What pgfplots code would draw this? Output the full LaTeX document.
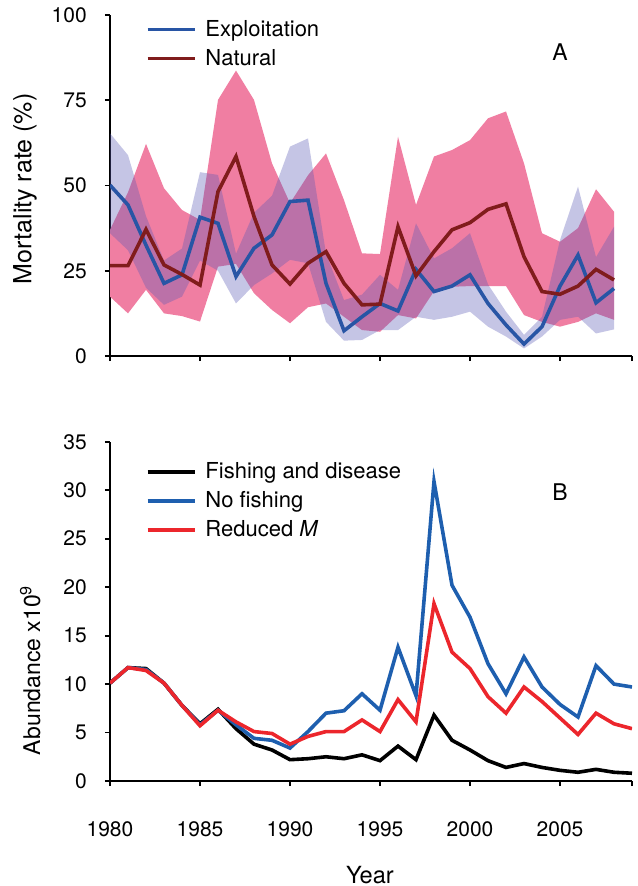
\documentclass[border=0pt]{standalone}
\usepackage{fontspec}
\setmainfont{TeX Gyre Heros}
\usepackage{pgfplots}
\usepackage{pgfplotstable}
\pgfplotsset{compat=1.18}
\usepgfplotslibrary{fillbetween}

\definecolor{explc}{RGB}{40,85,165}
\definecolor{natc}{RGB}{128,28,28}
\definecolor{pinkband}{RGB}{240,126,162}
\definecolor{lavband}{RGB}{90,90,180}
\definecolor{nfc}{RGB}{30,95,175}
\definecolor{rmc}{RGB}{236,38,44}

\pgfplotstableread{
year expl nat
1980 50.1 26.5
1981 44.3 26.5
1982 32.5 37.1
1983 21.3 26.7
1984 23.8 23.9
1985 40.7 20.8
1986 38.9 48.2
1987 23.3 58.5
1988 31.6 40.9
1989 35.5 26.7
1990 45.3 21.1
1991 45.7 27.2
1992 21.3 30.6
1993 7.4 21.3
1994 11.5 15.0
1995 15.4 15.2
1996 13.2 37.9
1997 25.4 23.5
1998 18.9 30.6
1999 20.5 37.0
2000 23.8 39.1
2001 15.4 43.0
2002 9.1 44.6
2003 3.5 29.1
2004 8.6 18.9
2005 20.5 18.1
2006 29.6 20.5
2007 15.6 25.4
2008 19.8 22.3
}\mort

\pgfplotstableread{
year eu el nu nl
1980 65.3 36.0 37.0 17.4
1981 58.9 31.0 48.0 12.5
1982 41.0 20.0 62.2 19.4
1983 28.0 15.0 49.2 12.5
1984 31.5 17.4 42.8 11.7
1985 53.9 28.0 39.9 10.1
1986 53.1 25.0 75.1 26.2
1987 30.0 15.4 83.7 27.0
1988 42.0 20.8 75.1 18.4
1989 47.0 24.2 56.5 13.5
1990 61.4 28.2 44.8 9.6
1991 63.8 27.2 53.0 14.3
1992 30.0 10.0 59.4 15.4
1993 16.4 4.5 45.7 11.5
1994 18.0 4.7 30.1 7.6
1995 23.8 7.6 29.9 7.1
1996 19.4 7.6 64.3 12.0
1997 38.9 11.5 44.3 11.0
1998 28.6 10.6 58.5 19.0
1999 31.6 11.5 60.4 20.3
2000 36.0 13.0 63.3 20.5
2001 21.0 8.6 69.7 20.5
2002 13.0 5.7 71.7 20.5
2003 6.2 2.2 56.5 12.0
2004 11.5 5.7 36.0 10.0
2005 34.0 10.6 33.5 8.6
2006 49.7 11.5 37.5 10.0
2007 29.0 6.6 48.9 12.5
2008 37.9 7.8 42.3 10.6
}\bands

\pgfplotstableread{
year fd nf rm
1980 10.1 10.1 10.1
1981 11.7 11.7 11.7
1982 11.6 11.5 11.4
1983 10.1 10.1 10.1
1984 7.8 7.8 7.8
1985 5.9 5.8 5.7
1986 7.4 7.3 7.3
1987 5.4 5.8 6.1
1988 3.8 4.4 5.1
1989 3.2 4.2 4.9
1990 2.2 3.4 3.8
1991 2.3 5.1 4.6
1992 2.5 7.0 5.1
1993 2.3 7.25 5.1
1994 2.7 9.0 6.3
1995 2.1 7.3 5.1
1996 3.6 13.8 8.4
1997 2.2 8.8 6.1
1998 6.8 30.9 18.3
1999 4.2 20.2 13.3
2000 3.2 16.9 11.6
2001 2.1 12.1 8.7
2002 1.4 9.0 7.0
2003 1.8 12.8 9.7
2004 1.4 9.7 8.2
2005 1.1 7.9 6.5
2006 0.9 6.6 4.8
2007 1.2 11.9 7.0
2008 0.9 10.0 5.9
2009 0.8 9.7 5.4
}\abund

\pgfplotsset{
  rstyle/.style={
    scale only axis, width=261pt,
    axis x line*=bottom, axis y line*=left,
    axis line style={-, line width=0.9pt},
    every tick/.style={black, line width=0.9pt},
    tick align=outside, major tick length=2.6pt,
    xmin=1980, xmax=2009,
    xtick={1980,1985,1990,1995,2000,2005,2009},
    tick label style={font=\fontsize{10.5}{12}\selectfont},
    /pgf/number format/assume math mode=true,
    /pgf/number format/1000 sep={},
    yticklabel style={xshift=-5.5pt},
    legend style={draw=none, fill=none, font=\fontsize{11}{13}\selectfont,
      inner sep=0pt, row sep=2pt, anchor=north west,
      nodes={inner sep=1.5pt},
      /tikz/every odd column/.append style={column sep=3pt}},
    legend cell align=left,
    legend image code/.code={\draw[#1] (0pt,0pt) -- (23.5pt,0pt);},
  }
}

\begin{document}
\begin{tikzpicture}
% Panel A
\begin{axis}[rstyle,
  at={(55pt,265pt)}, anchor=south west,
  height=170.5pt,
  ymin=0, ymax=100, ytick={0,25,50,75,100},
  xticklabel=\empty,
  ylabel={Mortality rate (\%)},
  ylabel style={at={(axis description cs:-0.163,0.49)}, anchor=center,
    font=\fontsize{12.5}{14}\selectfont},
  legend style={at={(axis description cs:0.068,0.995)}},
]
\addplot[name path=nu, draw=none, forget plot] table[x=year, y=nu] {\bands};
\addplot[name path=nl, draw=none, forget plot] table[x=year, y=nl] {\bands};
\addplot[pinkband, forget plot] fill between[of=nu and nl];
\addplot[name path=eu, draw=none, forget plot] table[x=year, y=eu] {\bands};
\addplot[name path=el, draw=none, forget plot] table[x=year, y=el] {\bands};
\addplot[lavband, fill opacity=0.35, forget plot] fill between[of=eu and el];
\addplot[explc, line width=1.8pt] table[x=year, y=expl] {\mort};
\addlegendentry{Exploitation}
\addplot[natc, line width=1.8pt] table[x=year, y=nat] {\mort};
\addlegendentry{Natural}
\node[font=\fontsize{11.5}{13}\selectfont] at (axis cs:2005,89) {A};
\end{axis}

% Panel B
\begin{axis}[rstyle,
  at={(55pt,52.5pt)}, anchor=south west,
  height=169.6pt,
  ymin=0, ymax=35, ytick={0,5,...,35},
  xticklabels={1980,1985,1990,1995,2000,2005,{}},
  xticklabel style={yshift=-14pt},
  xlabel={Year},
  xlabel style={at={(axis description cs:0.498,-0.277)}, anchor=center,
    font=\fontsize{11.8}{14}\selectfont},
  ylabel={Abundance x10\textsuperscript{9}},
  ylabel style={at={(axis description cs:-0.153,0.327)}, anchor=center,
    font=\fontsize{11.5}{14}\selectfont},
  legend style={at={(axis description cs:0.068,0.949)}},
]
\addplot[black, line width=1.8pt] table[x=year, y=fd] {\abund};
\addlegendentry{Fishing and disease}
\addplot[nfc, line width=1.8pt] table[x=year, y=nf] {\abund};
\addlegendentry{No fishing}
\addplot[rmc, line width=1.8pt] table[x=year, y=rm] {\abund};
\addlegendentry{Reduced \textit{M}}
\node[font=\fontsize{11.5}{13}\selectfont] at (axis cs:2005,29.8) {B};
\end{axis}
\pgfresetboundingbox
\path[use as bounding box] (0,0) rectangle (318.5pt,443pt);
\end{tikzpicture}
\end{document}
